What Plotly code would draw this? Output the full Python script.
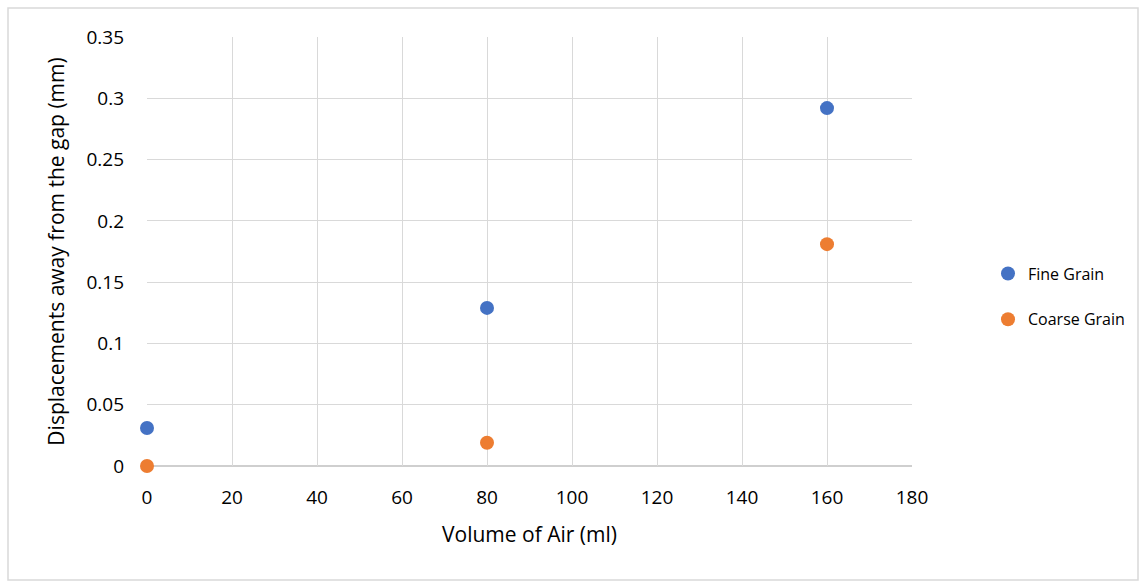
import plotly.graph_objects as go

volume = [0, 80, 160]
fine_grain = [0.031, 0.129, 0.292]
coarse_grain = [0.0, 0.019, 0.181]

x_ticks = [0, 20, 40, 60, 80, 100, 120, 140, 160, 180]
y_ticks = [0, 0.05, 0.1, 0.15, 0.2, 0.25, 0.3, 0.35]
y_tick_text = ["0", "0.05", "0.1", "0.15", "0.2", "0.25", "0.3", "0.35"]

font_family = "Open Sans, Liberation Sans, sans-serif"

fig = go.Figure()
fig.add_trace(go.Scatter(x=volume, y=fine_grain, mode="markers", name="Fine Grain",
                         legendgroup="a",
                         marker=dict(color="#4472C4", size=14), cliponaxis=False))
fig.add_trace(go.Scatter(x=volume, y=coarse_grain, mode="markers", name="Coarse Grain",
                         legendgroup="b",
                         marker=dict(color="#ED7D31", size=14), cliponaxis=False))

fig.update_layout(
    width=1139, height=581,
    margin=dict(l=147, r=227, t=37, b=115, autoexpand=False),
    paper_bgcolor="white", plot_bgcolor="white",
    font=dict(family=font_family, size=18, color="#000000"),
    showlegend=True,
    legend=dict(x=(988 - 147) / 765, y=0.395, xanchor="left", yanchor="middle",
                font=dict(size=16), tracegroupgap=22, itemwidth=30),
    xaxis=dict(range=[0, 180], tickvals=x_ticks, showgrid=True, gridcolor="#d9d9d9",
               gridwidth=1, zeroline=False, showline=False, ticks="",
               ticklabelstandoff=18, tickfont=dict(size=19),
               title=dict(text="Volume of Air (ml)", font=dict(size=21), standoff=18)),
    yaxis=dict(range=[0, 0.35], tickvals=y_ticks, ticktext=y_tick_text, showgrid=True,
               gridcolor="#d9d9d9", gridwidth=1, zeroline=False,
               showline=False, ticks="", ticklabelstandoff=22, tickfont=dict(size=19),
               title=dict(text="Displacements away from the gap (mm)", font=dict(size=21), standoff=16)),
    shapes=[
        dict(type="line", xref="paper", yref="paper", x0=0, x1=1, y0=0, y1=0,
             line=dict(color="#bfbfbf", width=1.5), layer="below"),
        dict(type="rect", xref="paper", yref="paper",
             x0=(8 - 147) / 765, x1=(1138 - 147) / 765,
             y0=(466 - 580) / 429, y1=(466 - 8) / 429,
             line=dict(color="#d9d9d9", width=1.5), layer="below"),
    ],
)

fig.write_html("out.html")
